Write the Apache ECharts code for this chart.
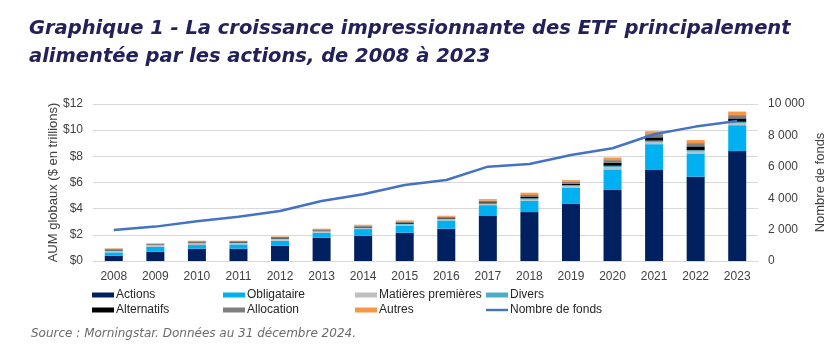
<!DOCTYPE html>
<html><head><meta charset="utf-8">
<script src="https://cdn.jsdelivr.net/npm/echarts@6/dist/echarts.min.js"></script>
<style>html,body{margin:0;padding:0;background:#fff}#c{width:836px;height:361px}</style>
</head><body><div id="c"></div>
<script>
const years = ['2008','2009','2010','2011','2012','2013','2014','2015','2016','2017','2018','2019','2020','2021','2022','2023'];
const actions      = [0.41,0.71,0.94,0.94,1.17,1.78,1.93,2.16,2.47,3.44,3.74,4.40,5.47,6.95,6.44,8.40];
const obligataire  = [0.25,0.38,0.28,0.33,0.38,0.38,0.51,0.56,0.63,0.83,0.87,1.22,1.53,1.98,1.78,1.98];
const matieres     = [0.10,0.10,0.12,0.10,0.12,0.08,0.07,0.06,0.07,0.08,0.08,0.10,0.16,0.15,0.14,0.14];
const divers       = [0.05,0.04,0.05,0.04,0.05,0.05,0.05,0.06,0.05,0.06,0.10,0.09,0.12,0.12,0.12,0.12];
const alternatifs  = [0.04,0.03,0.04,0.04,0.04,0.04,0.05,0.06,0.05,0.08,0.10,0.10,0.22,0.25,0.28,0.26];
const allocation   = [0.08,0.06,0.08,0.07,0.08,0.09,0.10,0.12,0.11,0.12,0.16,0.14,0.21,0.24,0.25,0.25];
const autres       = [0.04,0.03,0.04,0.03,0.04,0.05,0.06,0.08,0.08,0.12,0.17,0.13,0.20,0.23,0.23,0.27];
const nombreFonds  = [1980,2190,2530,2820,3190,3820,4250,4840,5160,6010,6180,6750,7180,8070,8560,8920];
const leftTicks = {min:0, max:12, interval:2};
const rightTicks = {min:0, max:10000, interval:2000};
const legendNames = ['Actions','Obligataire','Matières premières','Divers','Alternatifs','Allocation','Autres','Nombre de fonds'];

const chart = echarts.init(document.getElementById('c'));
const font = 'Liberation Sans, Arial, sans-serif';
const lab = {color:'#404040', fontSize:12, fontFamily:font};
function bar(name, data, color){
  return {name, type:'bar', stack:'aum', data, barWidth:18, itemStyle:{color}, emphasis:{disabled:true}};
}
const legendText = {fontSize:12, fontFamily:font, color:'#262626', padding:[0,0,0,-3]};
const colX = [92, 223, 355, 486];
const rowY = [289, 304];
const legends = legendNames.map((n, i) => ({
  left: colX[i % 4], top: rowY[Math.floor(i / 4)],
  itemWidth:22, itemHeight:5, itemGap:0, padding:0, textStyle:legendText, selectedMode:false,
  data:[n === 'Nombre de fonds' ? {name:n, icon:'path://M0,0H22V2.4H0Z'} : {name:n, icon:'rect'}]
}));
chart.setOption({
  animation:false,
  title:[{
    text:'Graphique 1 - La croissance impressionnante des ETF principalement\nalimentée par les actions, de 2008 à 2023',
    left:24, top:10,
    textStyle:{fontFamily:'DejaVu Sans, sans-serif', fontWeight:'bold', fontStyle:'italic', fontSize:19.5, lineHeight:28, color:'#22215A'}
  },{
    text:'Source : Morningstar. Données au 31 décembre 2024.',
    left:26, top:323,
    textStyle:{fontFamily:'DejaVu Sans, sans-serif', fontWeight:'normal', fontStyle:'italic', fontSize:12, color:'#6b6b6b'}
  }],
  grid:{left:93, right:78, top:104, bottom:100, outerBoundsMode:'none', containLabel:false},
  legend:legends,
  xAxis:{type:'category', data:years, axisTick:{show:false},
    axisLine:{show:true, lineStyle:{color:'#D9D9D9'}},
    axisLabel:Object.assign({margin:10}, lab)},
  yAxis:[{
    type:'value', min:leftTicks.min, max:leftTicks.max, interval:leftTicks.interval,
    name:'AUM globaux ($ en trillions)', nameLocation:'middle', nameGap:33, nameRotate:90, nameMoveOverlap:false,
    nameTextStyle:{fontSize:13, fontFamily:font, color:'#404040'},
    axisLabel:Object.assign({formatter:v=>'$'+v, margin:10}, lab),
    splitLine:{lineStyle:{color:'#D9D9D9'}}, axisLine:{show:false}, axisTick:{show:false}
  },{
    type:'value', min:rightTicks.min, max:rightTicks.max, interval:rightTicks.interval,
    name:'Nombre de fonds', nameLocation:'middle', nameGap:56, nameRotate:90, nameMoveOverlap:false,
    nameTextStyle:{fontSize:13, fontFamily:font, color:'#404040'},
    axisLabel:Object.assign({formatter:v=>String(v).replace(/\B(?=(\d{3})+(?!\d))/g,' '), margin:10}, lab),
    splitLine:{show:false}, axisLine:{show:false}, axisTick:{show:false}
  }],
  series:[
    bar('Actions', actions, '#002060'),
    bar('Obligataire', obligataire, '#00B0F0'),
    bar('Matières premières', matieres, '#BFBFBF'),
    bar('Divers', divers, '#4BACC6'),
    bar('Alternatifs', alternatifs, '#000000'),
    bar('Allocation', allocation, '#7F7F7F'),
    bar('Autres', autres, '#F79646'),
    {name:'Nombre de fonds', type:'line', yAxisIndex:1, data:nombreFonds, symbol:'none', smooth:false,
      lineStyle:{color:'#4472C4', width:2.5}, itemStyle:{color:'#4472C4'}, emphasis:{disabled:true}}
  ]
});
</script></body></html>
